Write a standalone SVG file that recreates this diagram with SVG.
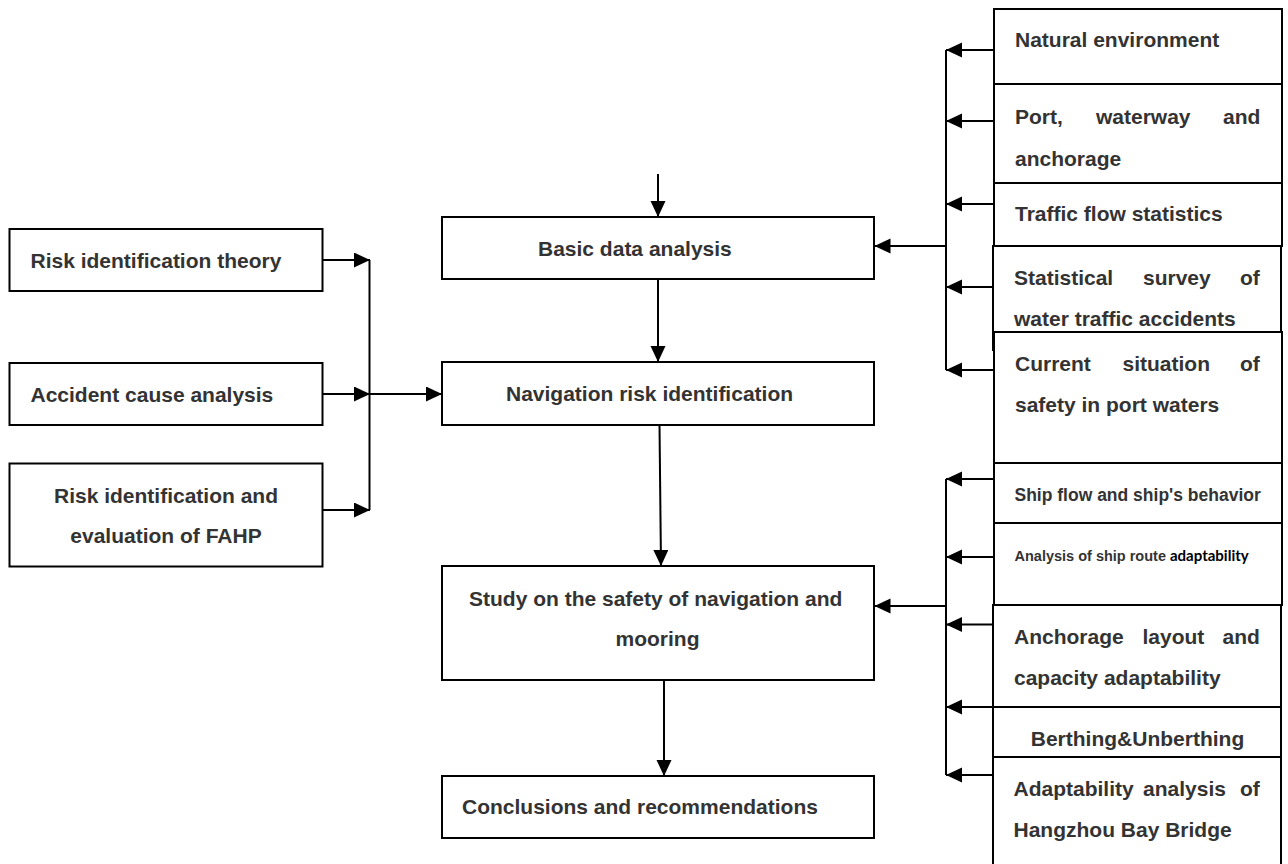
<svg xmlns="http://www.w3.org/2000/svg" width="1288" height="864" viewBox="0 0 1288 864">
<defs>
<marker id="ah" markerUnits="userSpaceOnUse" markerWidth="16" markerHeight="16" refX="16" refY="7.5" orient="auto">
<path d="M0,0 L16,7.5 L0,15 z" fill="#000"/>
</marker>
<style>
.box{fill:#fff;stroke:#000;stroke-width:2}
.open{fill:none;stroke:#000;stroke-width:2}
.t{font-family:"Liberation Sans",Arial,sans-serif;font-weight:bold;font-size:21px;fill:#333}
.s{font-size:17.5px}
.xs{font-size:14.5px}
.cal{font-family:Lato,"Open Sans",sans-serif;font-weight:bold;font-size:15px;fill:#000}
.c{fill:none;stroke:#000;stroke-width:2}
.a{marker-end:url(#ah)}
</style>
</defs>
<rect width="1288" height="864" fill="#fff"/>

<g id="connectors">
<path class="c a" d="M658,174 V217"/>
<path class="c a" d="M658,279 V362"/>
<path class="c a" d="M659.5,425 L661,566"/>
<path class="c a" d="M664,680 V776"/>
<path class="c a" d="M322,260 H370"/>
<path class="c a" d="M322,394 H370"/>
<path class="c a" d="M322,510 H370"/>
<path class="c" d="M369.5,260 V510"/>
<path class="c a" d="M369.5,394 H442"/>
<path class="c" d="M946,50 V370"/>
<path class="c a" d="M993,50 H946"/>
<path class="c a" d="M993,121 H946"/>
<path class="c a" d="M993,204 H946"/>
<path class="c a" d="M993,287 H946"/>
<path class="c a" d="M994,370 H946"/>
<path class="c a" d="M946,246 H874.5"/>
<path class="c" d="M946,479 V775"/>
<path class="c a" d="M993,479 H946"/>
<path class="c a" d="M993,557 H946"/>
<path class="c a" d="M993,624.5 H946"/>
<path class="c a" d="M993,707 H946"/>
<path class="c a" d="M993,775 H946"/>
<path class="c a" d="M946,606 H874.5"/>
</g>

<g id="basic">
<rect class="box" x="442" y="217" width="432" height="62"/>
<text class="t" x="538" y="256">Basic data analysis</text>
</g>
<g id="nav">
<rect class="box" x="442" y="362" width="432" height="63"/>
<text class="t" x="506" y="401">Navigation risk identification</text>
</g>
<g id="study">
<rect class="box" x="442" y="566" width="432" height="114"/>
<text class="t" x="469" y="605.5">Study on the safety of navigation and</text>
<text class="t" x="615.5" y="646">mooring</text>
</g>
<g id="conclusions">
<rect class="box" x="442" y="776" width="432" height="62"/>
<text class="t" x="462" y="814">Conclusions and recommendations</text>
</g>

<g id="risk-theory">
<rect class="box" x="9.5" y="229" width="313" height="62"/>
<text class="t" x="30.5" y="267.5">Risk identification theory</text>
</g>
<g id="accident-cause">
<rect class="box" x="9.5" y="363" width="313" height="62"/>
<text class="t" x="30.5" y="401.5">Accident cause analysis</text>
</g>
<g id="fahp">
<rect class="box" x="9.5" y="463.5" width="313" height="103"/>
<text class="t" x="166" y="502.5" text-anchor="middle">Risk identification and</text>
<text class="t" x="166" y="542.5" text-anchor="middle">evaluation of FAHP</text>
</g>

<g id="natural">
<rect class="box" x="994" y="9" width="288" height="75"/>
<text class="t" x="1015" y="46.5">Natural environment</text>
</g>
<g id="port">
<rect class="box" x="994" y="84" width="288" height="99"/>
<text class="t" y="124"><tspan x="1015">Port,</tspan><tspan x="1096">waterway</tspan><tspan x="1223">and</tspan></text>
<text class="t" x="1015" y="165.5">anchorage</text>
</g>
<g id="traffic">
<rect class="box" x="994" y="183" width="288" height="63"/>
<text class="t" x="1015" y="220.5">Traffic flow statistics</text>
</g>
<g id="survey">
<rect class="box" x="993" y="246" width="288" height="104"/>
<text class="t" y="285"><tspan x="1014">Statistical</tspan><tspan x="1143">survey</tspan><tspan x="1240">of</tspan></text>
<text class="t" x="1014" y="326">water traffic accidents</text>
</g>
<g id="current">
<rect class="box" x="994" y="332" width="288" height="131"/>
<text class="t" y="370.5"><tspan x="1015">Current</tspan><tspan x="1122.5">situation</tspan><tspan x="1240">of</tspan></text>
<text class="t" x="1015" y="412">safety in port waters</text>
</g>
<path class="open" d="M993,332 V350"/>
<g id="ship-flow">
<rect class="box" x="994" y="463" width="288" height="60"/>
<text class="t s" x="1014.5" y="501">Ship flow and ship's behavior</text>
</g>
<g id="route">
<rect class="box" x="994" y="523" width="288" height="82"/>
<text class="t xs" x="1014.5" y="560.5">Analysis of ship route <tspan class="cal">adaptability</tspan></text>
</g>
<g id="anchorage">
<rect class="box" x="993" y="605" width="288" height="102"/>
<text class="t" y="643.5"><tspan x="1014">Anchorage</tspan><tspan x="1142.5">layout</tspan><tspan x="1222.5">and</tspan></text>
<text class="t" x="1014" y="685">capacity adaptability</text>
</g>
<g id="berthing">
<rect class="box" x="993" y="707" width="288" height="50"/>
<text class="t" x="1137.5" y="746" text-anchor="middle">Berthing&amp;Unberthing</text>
</g>
<g id="bridge">
<rect class="box" x="993" y="757" width="288" height="120"/>
<text class="t" y="796"><tspan x="1013.5">Adaptability</tspan><tspan x="1143">analysis</tspan><tspan x="1240">of</tspan></text>
<text class="t" x="1013.5" y="837">Hangzhou Bay Bridge</text>
</g>
</svg>
